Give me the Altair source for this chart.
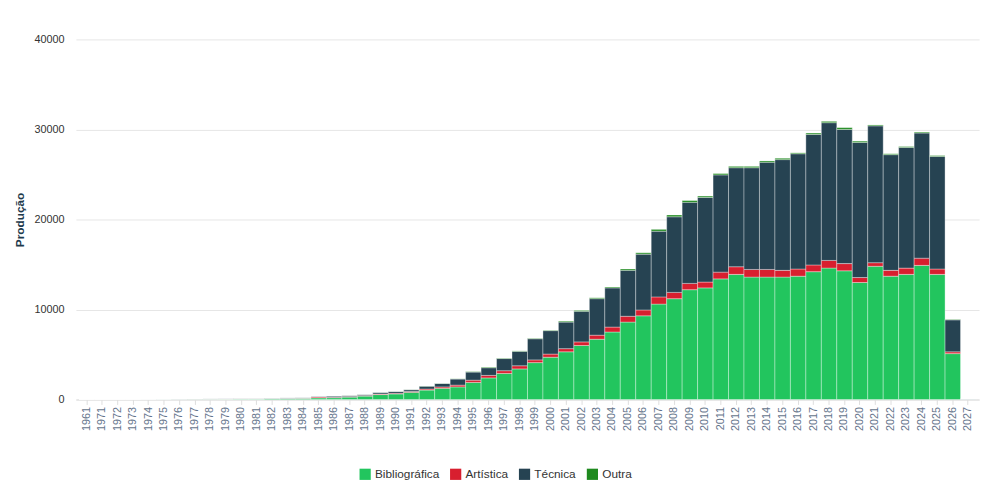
import altair as alt
import pandas as pd

years = [1961, 1971, 1972, 1973, 1974, 1975, 1976, 1977, 1978, 1979, 1980, 1981,
         1982, 1983, 1984, 1985, 1986, 1987, 1988, 1989, 1990, 1991, 1992, 1993,
         1994, 1995, 1996, 1997, 1998, 1999, 2000, 2001, 2002, 2003, 2004, 2005,
         2006, 2007, 2008, 2009, 2010, 2011, 2012, 2013, 2014, 2015, 2016, 2017,
         2018, 2019, 2020, 2021, 2022, 2023, 2024, 2025, 2026, 2027]
bibliografica = [5, 5, 5, 5, 10, 20, 30, 40, 45, 50, 60, 60,
                 100, 120, 140, 180, 200, 270, 380, 550, 620, 800, 1050, 1250,
                 1400, 1900, 2400, 2900, 3400, 4100, 4700, 5300, 6000, 6700, 7500, 8600,
                 9300, 10600, 11200, 12200, 12400, 13400, 13900, 13600, 13600, 13600, 13700, 14200,
                 14600, 14300, 13000, 14800, 13700, 13900, 14900, 13900, 5100, 20]
artistica = [0, 0, 0, 0, 0, 0, 5, 5, 5, 5, 10, 10,
             10, 15, 20, 100, 60, 60, 60, 70, 80, 90, 120, 150,
             200, 250, 280, 300, 350, 300, 350, 350, 400, 450, 550, 650,
             650, 800, 700, 700, 650, 750, 850, 850, 850, 750, 800, 750,
             850, 800, 550, 400, 650, 700, 800, 600, 200, 0]
tecnica = [0, 0, 0, 0, 5, 10, 15, 15, 20, 25, 30, 30,
           40, 45, 40, 70, 120, 110, 110, 170, 190, 200, 310, 380,
           680, 900, 850, 1350, 1600, 2350, 2600, 2950, 3400, 4050, 4350, 5100,
           6200, 7300, 8400, 9000, 9400, 10800, 11000, 11300, 11900, 12300, 12800, 14500,
           15300, 14900, 15000, 15200, 12850, 13400, 13900, 12500, 3550, 30]
outra = [0, 0, 0, 0, 0, 0, 0, 0, 0, 0, 0, 0,
         0, 0, 0, 0, 0, 10, 10, 10, 10, 10, 20, 20,
         20, 50, 70, 50, 50, 50, 50, 100, 100, 100, 100, 150,
         150, 200, 200, 200, 150, 150, 150, 150, 150, 150, 100, 150,
         150, 200, 150, 100, 100, 100, 100, 100, 50, 0]

cats = ["Bibliográfica", "Artística", "Técnica", "Outra"]
colors = ["#22c55e", "#d81f2f", "#264352", "#1f8a1f"]

rows = []
for i, y in enumerate(years):
    for k, (c, vals) in enumerate(zip(cats, [bibliografica, artistica, tecnica, outra])):
        rows.append({"Ano": str(y), "Tipo": c, "Produção": vals[i], "ordem": k})
df = pd.DataFrame(rows)

chart = alt.Chart(df).mark_bar(stroke="#ffffff", strokeOpacity=0.35, strokeWidth=1).encode(
    x=alt.X("Ano:O", title=None, sort=[str(y) for y in years],
            scale=alt.Scale(paddingInner=0, paddingOuter=0.2),
            axis=alt.Axis(labelAngle=-90, labelColor="#64748b", labelFontSize=11,
                          domainColor="#dddddd", tickColor="#dddddd")),
    y=alt.Y("Produção:Q", title="Produção", stack="zero",
            scale=alt.Scale(domain=[0, 40000]),
            axis=alt.Axis(tickCount=4, format="d", domain=False, ticks=False,
                          labelColor="#333333", labelFontSize=11, gridColor="#e5e5e5",
                          titleColor="#1e3a4c", titleFontSize=12, titleFontWeight="bold",
                          labelPadding=12, titlePadding=8)),
    color=alt.Color("Tipo:N", scale=alt.Scale(domain=cats, range=colors),
                    legend=alt.Legend(orient="none", legendX=288, legendY=436,
                                      direction="horizontal", title=None, symbolType="square",
                                      symbolSize=130, labelFontSize=12, symbolStrokeWidth=0,
                                      labelColor="#333333")),
    order=alt.Order("ordem:Q"),
    tooltip=["Ano", "Tipo", "Produção"],
).properties(
    width=918, height=366,
    padding={"top": 22, "left": 5, "right": 5, "bottom": 5}
).configure(font="Liberation Sans").configure_view(stroke=None)

chart.save("out.html", embed_options={"renderer": "svg", "actions": False})
